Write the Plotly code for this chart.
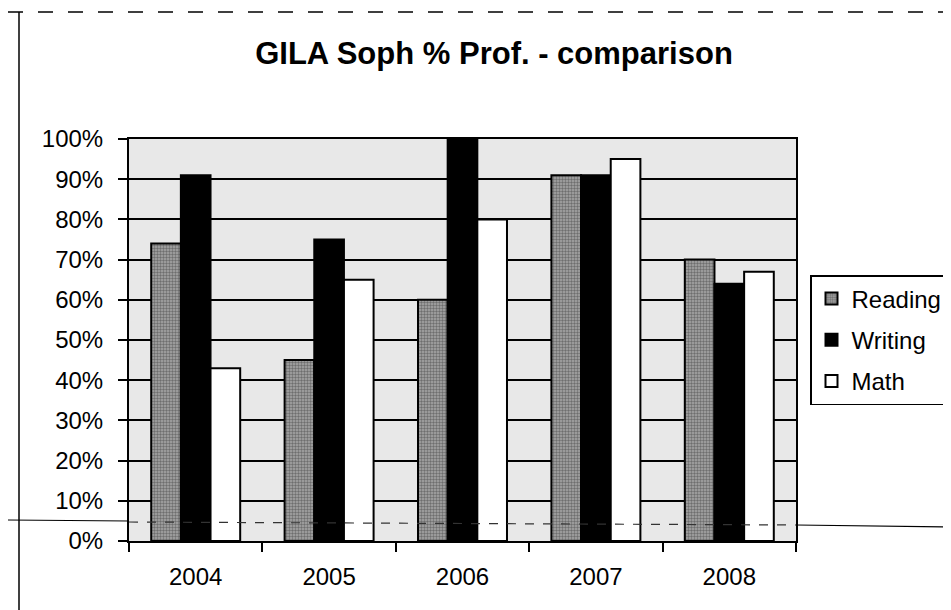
import plotly.graph_objects as go

years = ["2004", "2005", "2006", "2007", "2008"]
reading = [0.74, 0.45, 0.60, 0.91, 0.70]
writing = [0.91, 0.75, 1.00, 0.91, 0.64]
math_ = [0.43, 0.65, 0.80, 0.95, 0.67]
y_ticks = [0, 0.1, 0.2, 0.3, 0.4, 0.5, 0.6, 0.7, 0.8, 0.9, 1.0]

FONT = "Liberation Sans, Arial, sans-serif"

fig = go.Figure()
fig.add_trace(go.Bar(
    name="Reading", x=years, y=reading, legendgroup="r",
    marker=dict(color="#8a8a8a", line=dict(color="black", width=2),
                pattern=dict(shape=".", fgcolor="#333333", bgcolor="#a8a8a8",
                             size=3, solidity=0.5)),
))
fig.add_trace(go.Bar(
    name="Writing", x=years, y=writing, legendgroup="w",
    marker=dict(color="black", line=dict(color="black", width=2)),
))
fig.add_trace(go.Bar(
    name="Math", x=years, y=math_, legendgroup="m",
    marker=dict(color="white", line=dict(color="black", width=2)),
))

# page border and scan artefact line (paper coords relative to plot domain)
L, R, T, B = 121, 788, 131, 533
W, H = 951, 610
def px(x):
    return (x - L) / (R - L)
def py(y):
    return (B - y) / (B - T)

shapes = [
    dict(type="line", xref="paper", yref="paper", x0=px(11), x1=px(11), y0=py(4), y1=py(610),
         line=dict(color="black", width=1.5)),
    dict(type="line", xref="paper", yref="paper", x0=px(0), x1=px(951), y0=py(4), y1=py(4),
         line=dict(color="black", width=1.5, dash="longdash")),
    dict(type="line", xref="paper", yref="paper", x0=px(0), x1=px(L), y0=py(512), y1=py(513),
         line=dict(color="black", width=1.2)),
    dict(type="line", xref="paper", yref="paper", x0=px(L), x1=px(R), y0=py(514), y1=py(517),
         line=dict(color="#333333", width=1.2, dash="dash")),
    dict(type="line", xref="paper", yref="paper", x0=px(R), x1=px(951), y0=py(517), y1=py(519),
         line=dict(color="black", width=1.2)),
]

fig.update_layout(
    width=W, height=H,
    margin=dict(l=L, r=W - R, t=T, b=H - B, autoexpand=False),
    paper_bgcolor="white",
    plot_bgcolor="#e8e8e8",
    barmode="group",
    bargap=0.333,
    bargroupgap=0,
    font=dict(family=FONT, color="black", size=24),
    title=dict(text="<b>GILA Soph % Prof. - comparison</b>",
               x=486 / W, xanchor="center", xref="container",
               y=1 - 45 / H, yanchor="middle", yref="container",
               font=dict(family=FONT, size=31, color="black")),
    legend=dict(x=px(802), xanchor="left", y=py(267), yanchor="top",
                bgcolor="white", bordercolor="black", borderwidth=1.5,
                font=dict(family=FONT, size=24, color="black"),
                traceorder="grouped", tracegroupgap=7),
    shapes=shapes,
)

fig.update_yaxes(
    range=[0, 1], tickvals=y_ticks, tickformat=".0%",
    showgrid=True, gridcolor="black", gridwidth=1.5,
    showline=True, linecolor="black", linewidth=2, mirror=True,
    ticks="outside", ticklen=9, tickwidth=1.5, tickcolor="black",
    ticklabelstandoff=10, zeroline=False,
    tickfont=dict(family=FONT, size=24, color="black"),
)
fig.update_xaxes(
    type="category", showline=True, linecolor="black", linewidth=2, mirror=True,
    ticks="outside", tickson="boundaries", ticklen=9, tickwidth=1.5, tickcolor="black",
    ticklabelstandoff=13, showgrid=False,
    tickfont=dict(family=FONT, size=24, color="black"),
)

fig.write_html("out.html")
